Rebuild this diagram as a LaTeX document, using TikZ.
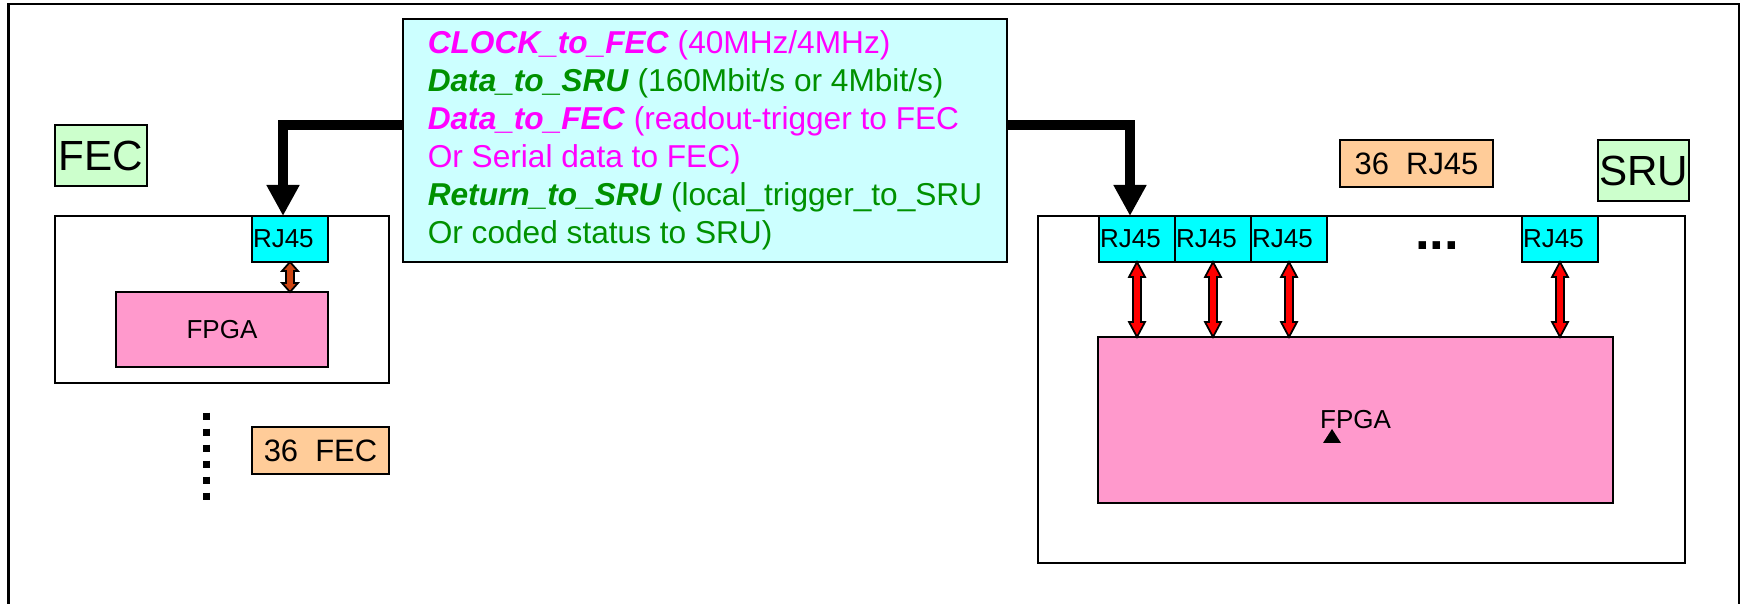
\documentclass[tikz,border=0pt]{standalone}
\usepackage{fontspec}
\setmainfont{Liberation Sans}
\usepackage{tikz}
\usetikzlibrary{arrows.meta,positioning,calc}
\definecolor{infocyan}{RGB}{204,255,255}
\definecolor{rjcyan}{RGB}{0,255,255}
\definecolor{fpgapink}{RGB}{255,153,204}
\definecolor{namegreen}{RGB}{204,255,204}
\definecolor{countorange}{RGB}{255,204,153}
\definecolor{sigmagenta}{RGB}{255,0,255}
\definecolor{siggreen}{RGB}{0,145,0}
\definecolor{fecarrow}{RGB}{204,68,17}
\newcommand{\updown}[4]{%
  \draw[line width=0.5pt,fill=#3] let \p1=(#1), \p2=(#2) in
    (\x1,\y1) -- (\x1+0.8mm,\y1-#4) -- (\x1+0.4mm,\y1-#4) -- (\x1+0.4mm,\y2+#4)
    -- (\x1+0.8mm,\y2+#4) -- (\x1,\y2) -- (\x1-0.8mm,\y2+#4) -- (\x1-0.4mm,\y2+#4)
    -- (\x1-0.4mm,\y1-#4) -- (\x1-0.8mm,\y1-#4) -- cycle;}

\begin{document}
\begin{tikzpicture}[x=0.1mm,y=-0.1mm,
  block/.style={draw,line width=0.7pt,inner sep=0pt,outer sep=0pt,anchor=north west},
  rj/.style={block,fill=rjcyan,minimum width=7.6mm,minimum height=4.6mm,
    text width=7.4mm,align=left,font=\fontsize{7.4}{8}\selectfont},
  fpga/.style={block,fill=fpgapink,font=\fontsize{7.4}{8}\selectfont},
  unitname/.style={block,fill=namegreen,minimum height=6.1mm,font=\fontsize{12}{14}\selectfont},
  tally/.style={block,fill=countorange,minimum height=4.7mm,font=\fontsize{8.8}{10}\selectfont},
  feed/.style={line width=1mm,-{Triangle[length=3.1mm,width=3.1mm]}}]
\useasboundingbox (0,0) rectangle (1743,604);
\draw[line width=0.6pt] (8.5,604) |- (1739,4) -- (1739,604);

\node[block,fill=infocyan,minimum width=60.4mm,minimum height=24.3mm,align=left,
  font=\fontsize{9}{10.8}\selectfont] (info) at (403,19) {%
  \textcolor{sigmagenta}{\textbf{\textit{CLOCK\_to\_FEC}} (40MHz/4MHz)}\\
  \textcolor{siggreen}{\textbf{\textit{Data\_to\_SRU}} (160Mbit/s or 4Mbit/s)}\\
  \textcolor{sigmagenta}{\textbf{\textit{Data\_to\_FEC}} (readout-trigger to FEC}\\
  \textcolor{sigmagenta}{Or Serial data to FEC)}\\
  \textcolor{siggreen}{\textbf{\textit{Return\_to\_SRU}} (local\_trigger\_to\_SRU}\\
  \textcolor{siggreen}{Or coded status to SRU)}};

\node[unitname,minimum width=9.2mm] (feclabel) at (55,125) {FEC};
\node[block,minimum width=33.4mm,minimum height=16.7mm] (fecboard) at (55,216) {};
\node[rj] (rjF) at (252,216) {RJ45};
\node[fpga,minimum width=21.2mm,minimum height=7.5mm] (fpgaF) at (116,292) {FPGA};
\draw[line width=0.7mm,dash pattern=on 0.7mm off 0.9mm] (206,412.7) -- (206,500);
\node[tally,minimum width=13.7mm] (fecnum) at (252,427) {36\ \ FEC};

\node[unitname,minimum width=9.1mm] (srulabel) at (1598,140) {SRU};
\node[tally,minimum width=15.3mm] (rjnum) at (1340,140) {36\ \ RJ45};
\node[block,minimum width=64.7mm,minimum height=34.7mm] (sruboard) at (1038,216) {};
\node[rj] (rjA) at (1099,216) {RJ45};
\node[rj,right=0pt of rjA] (rjB) {RJ45};
\node[rj,right=0pt of rjB] (rjC) {RJ45};
\node[rj] (rjN) at (1522,216) {RJ45};
\node[anchor=base,inner sep=0pt,font=\fontsize{15}{18}\selectfont\bfseries] (dots) at (1437,250) {...};
\node[fpga,minimum width=51.5mm,minimum height=16.6mm] (fpgaS) at (1098,337) {FPGA};
\fill (1323,443) -- (1341,443) -- (1332,429) -- cycle;

\coordinate (feedy) at (0,125.5);
\draw[feed] (info.west |- feedy) -| ($(rjF.north)+(-7,0)$);
\draw[feed] (info.east |- feedy) -| ($(rjA.north)+(-7,0)$);

\updown{rjF.south}{rjF.south |- fpgaF.north}{fecarrow}{0.9mm}
\foreach \r in {rjA,rjB,rjC,rjN}
  {\updown{\r.south}{\r.south |- fpgaS.north}{red}{1.5mm}}
\end{tikzpicture}
\end{document}
